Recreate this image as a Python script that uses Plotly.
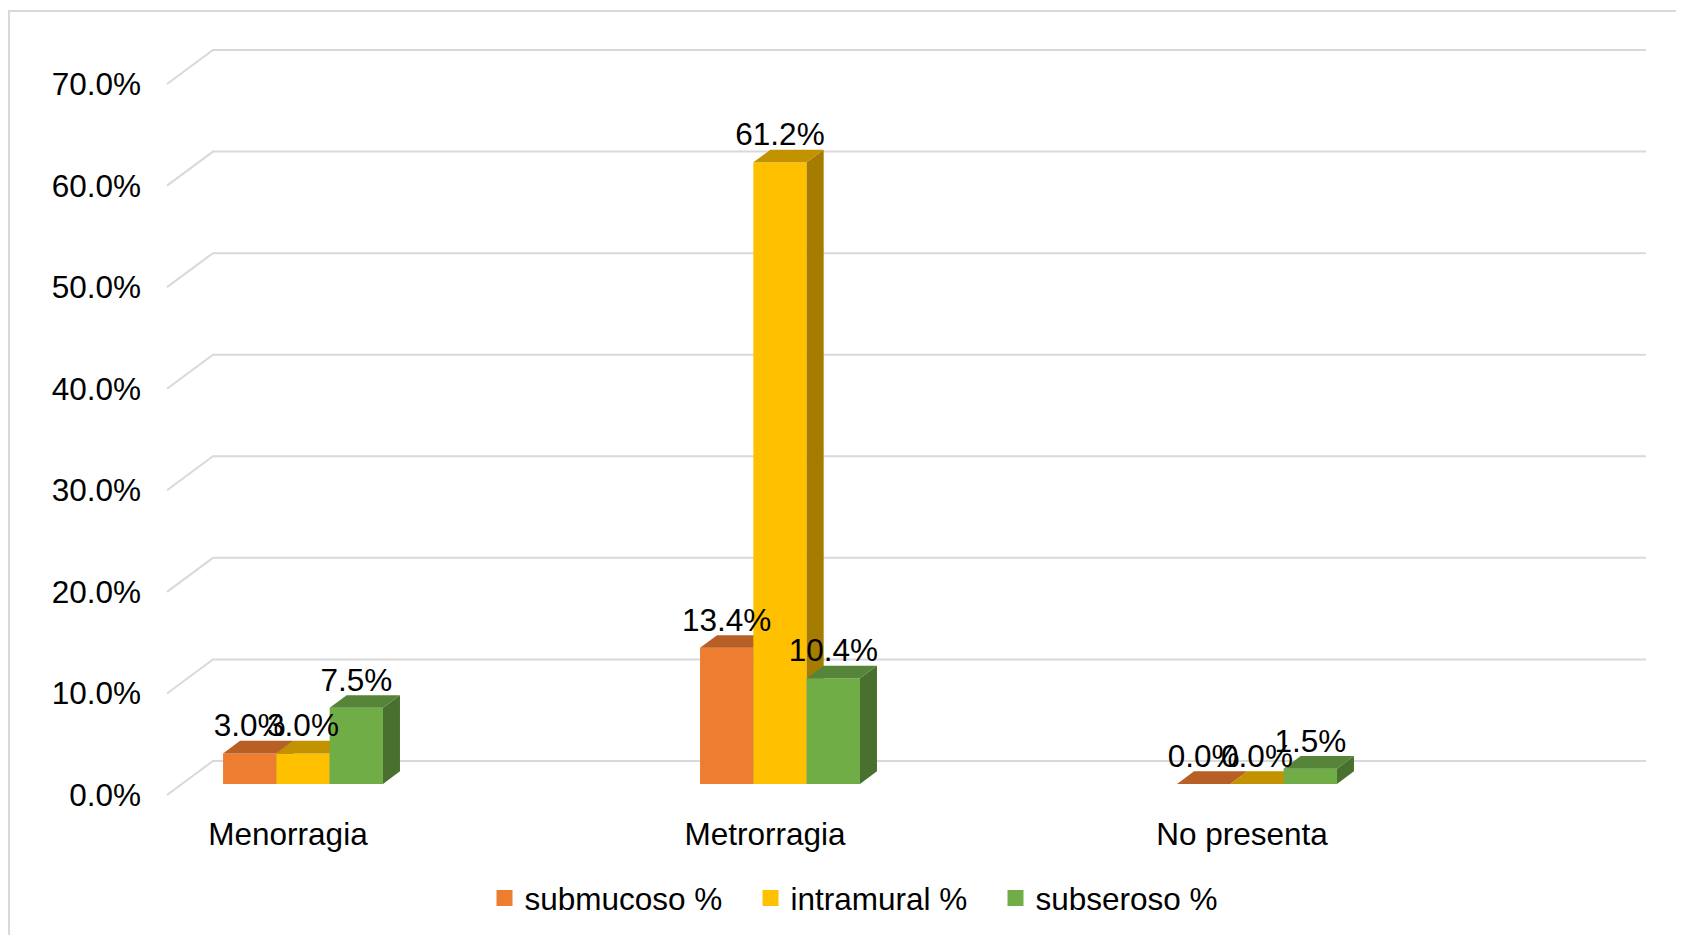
import plotly.graph_objects as go

# ---------------- data ----------------
categories = ["Menorragia", "Metrorragia", "No presenta"]
series_names = ["submucoso %", "intramural %", "subseroso %"]
submucoso = [3.0, 13.4, 0.0]
intramural = [3.0, 61.2, 0.0]
subseroso = [7.5, 10.4, 1.5]
y_tick_values = [0, 10, 20, 30, 40, 50, 60, 70]
y_tick_labels = ["0.0%", "10.0%", "20.0%", "30.0%", "40.0%", "50.0%", "60.0%", "70.0%"]

series_values = [submucoso, intramural, subseroso]
front_colors = ["#ED7D31", "#FFC000", "#70AD47"]
top_colors = ["#B75F25", "#C39200", "#56853A"]
side_colors = ["#9C5221", "#A57C00", "#49702E"]

# ---------------- geometry (oblique 3D projection) ----------------
FONT = "Liberation Sans, Arial, sans-serif"
FS = 31.5
W, H = 1684, 935
OFF = 8  # page body margin: screen = figure + OFF


def f(v):
    return v - OFF


PLOT_L, PLOT_R, PLOT_T, PLOT_B = f(150), f(1664), f(20), f(797)
M_L, M_R, M_T, M_B = PLOT_L, W - PLOT_R, PLOT_T, H - PLOT_B
PLOT_W = PLOT_R - PLOT_L
PLOT_H = PLOT_B - PLOT_T
PX_PER_CAT = 477.0
PX_PER_PCT = 10.157
CAT0_PX = f(288.0)
ZERO_PX = f(795.0)

x_lo = (PLOT_L - CAT0_PX) / PX_PER_CAT
x_hi = x_lo + PLOT_W / PX_PER_CAT
y_lo = (ZERO_PX - PLOT_B) / PX_PER_PCT
y_hi = y_lo + PLOT_H / PX_PER_PCT

DEPTH_DX = 46 / PX_PER_CAT
DEPTH_DY = 34 / PX_PER_PCT
Z_FRONT, Z_BACK = 0.326, 0.696
WALL_X0 = (f(167) - CAT0_PX) / PX_PER_CAT
WALL_X1 = (f(1600) - CAT0_PX) / PX_PER_CAT
BAR_W = 53.3 / PX_PER_CAT
LABEL_DY = 25 / PX_PER_PCT

bar_base = Z_FRONT * DEPTH_DY
shift_x = Z_FRONT * DEPTH_DX
ddx = (Z_BACK - Z_FRONT) * DEPTH_DX
ddy = (Z_BACK - Z_FRONT) * DEPTH_DY

legend_sq_centers = [509.5, 775.5, 1020.5]
LEGEND_Y = 898
LEGEND_SYM_OFFSET = 25

fig = go.Figure()
label_x, label_y, label_t = [], [], []
legend_keys = ["legend", "legend2", "legend3"]

for i, (name, vals) in enumerate(zip(series_names, series_values)):
    axn = "" if i == 0 else str(i + 1)
    xa, ya = "x" + axn, "y" + axn
    off = shift_x + (i - 1.5) * BAR_W
    sx, sy, tx, ty = [], [], [], []
    for c, v in enumerate(vals):
        xl = c + off
        xr = xl + BAR_W
        top = bar_base + v
        sx += [xr, xr + ddx, xr + ddx, xr, xr, None]
        sy += [bar_base, bar_base + ddy, top + ddy, top, bar_base, None]
        tx += [xl, xr, xr + ddx, xl + ddx, xl, None]
        ty += [top, top, top + ddy, top + ddy, top, None]
        label_x.append(xl + BAR_W / 2)
        label_y.append(top + LABEL_DY)
        label_t.append(f"{v:.1f}%")
    fig.add_trace(go.Scatter(x=sx, y=sy, xaxis=xa, yaxis=ya, mode="lines",
                             line=dict(width=0, color=side_colors[i]), fill="toself",
                             fillcolor=side_colors[i], showlegend=False, hoverinfo="skip"))
    fig.add_trace(go.Scatter(x=tx, y=ty, xaxis=xa, yaxis=ya, mode="lines",
                             line=dict(width=0, color=top_colors[i]), fill="toself",
                             fillcolor=top_colors[i], showlegend=False, hoverinfo="skip"))
    fig.add_trace(go.Bar(x=list(range(len(categories))), y=vals, base=[bar_base] * len(vals),
                         width=BAR_W, offset=off, xaxis=xa, yaxis=ya, name=name,
                         marker=dict(color=front_colors[i], line=dict(width=0)),
                         showlegend=False))
    fig.add_trace(go.Scatter(x=[None], y=[None], xaxis=xa, yaxis=ya, mode="markers", name=name,
                             marker=dict(symbol="square", size=16, color=front_colors[i]),
                             showlegend=True, legend=legend_keys[i]))

fig.add_trace(go.Scatter(x=label_x, y=label_y, xaxis="x3", yaxis="y3", mode="text",
                         text=label_t, textposition="middle center",
                         textfont=dict(family=FONT, size=FS, color="#000000"),
                         cliponaxis=False, showlegend=False, hoverinfo="skip"))

# back-wall gridlines
shapes = []
for v in y_tick_values:
    shapes.append(dict(type="path", xref="x", yref="y", layer="below",
                       path=f"M {WALL_X0},{v} L {WALL_X0 + DEPTH_DX},{v + DEPTH_DY} L {WALL_X1 + DEPTH_DX},{v + DEPTH_DY}",
                       line=dict(color="#D9D9D9", width=2)))


def px2paper(px, py):
    return (px - PLOT_L) / PLOT_W, (PLOT_B - py) / PLOT_H


bx0, by0 = px2paper(f(9), f(960))
bx1, by1 = px2paper(f(9), f(11))
bx2, by2 = px2paper(f(1720), f(11))
shapes.append(dict(type="path", xref="paper", yref="paper", layer="above",
                   path=f"M {bx0},{by0} L {bx1},{by1} L {bx2},{by2}",
                   line=dict(color="#D9D9D9", width=2)))

legends = {}
for i, key in enumerate(legend_keys):
    legends[key] = dict(orientation="h", xref="container", yref="container",
                        x=f(legend_sq_centers[i] - LEGEND_SYM_OFFSET) / W, xanchor="left",
                        y=1 - f(LEGEND_Y) / H, yanchor="middle",
                        font=dict(family=FONT, size=FS, color="#000000"),
                        bgcolor="rgba(0,0,0,0)", borderwidth=0,
                        itemclick=False, itemdoubleclick=False)

hidden = dict(visible=False, showgrid=False, zeroline=False)
fig.update_layout(
    width=W, height=H,
    margin=dict(l=M_L, r=M_R, t=M_T, b=M_B),
    paper_bgcolor="white", plot_bgcolor="white",
    font=dict(family=FONT, size=FS, color="#000000"),
    barmode="overlay",
    shapes=shapes,
    xaxis=dict(range=[x_lo, x_hi], tickvals=list(range(len(categories))), ticktext=categories,
               showgrid=False, zeroline=False, showline=False, ticks="",
               tickfont=dict(family=FONT, size=FS, color="#000000"), ticklabelstandoff=15),
    yaxis=dict(range=[y_lo, y_hi], tickvals=y_tick_values, ticktext=y_tick_labels,
               showgrid=False, zeroline=False, showline=False, ticks="",
               tickfont=dict(family=FONT, size=FS, color="#000000"), ticklabelstandoff=8),
    xaxis2=dict(overlaying="x", range=[x_lo, x_hi], **hidden),
    yaxis2=dict(overlaying="y", range=[y_lo, y_hi], **hidden),
    xaxis3=dict(overlaying="x", range=[x_lo, x_hi], **hidden),
    yaxis3=dict(overlaying="y", range=[y_lo, y_hi], **hidden),
    showlegend=True,
    **legends,
)

fig.write_html("out.html")
